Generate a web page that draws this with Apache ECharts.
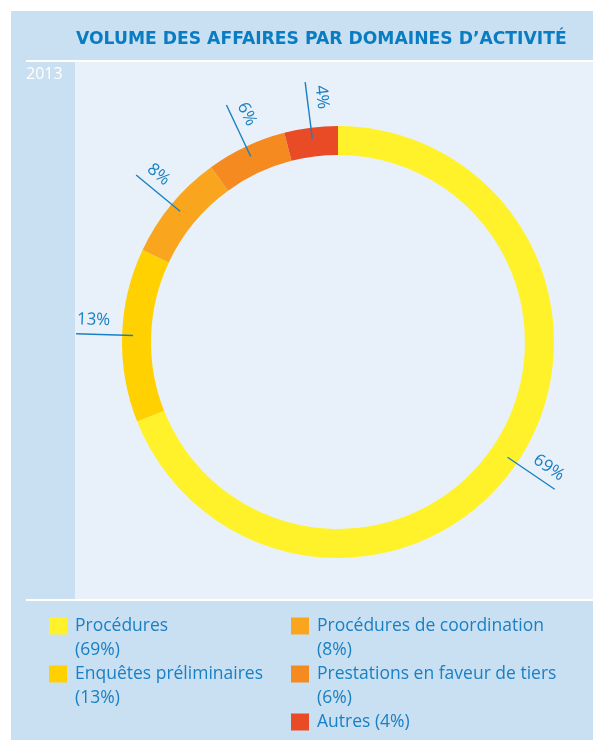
<!DOCTYPE html>
<html>
<head>
<meta charset="utf-8">
<script src="https://cdn.jsdelivr.net/npm/echarts@6/dist/echarts.min.js"></script>
<style>
html,body{margin:0;padding:0;background:#fff;}
#chart{width:593px;height:740px;}
</style>
</head>
<body>
<div id="chart"></div>
<script>
// domaines d'activité, 2013
const categories = ['Procédures', 'Enquêtes préliminaires', 'Procédures de coordination', 'Prestations en faveur de tiers', 'Autres'];
const shares = [69, 13, 8, 6, 4];
const palette = ['#fff22a', '#ffd100', '#f9a61e', '#f58a21', '#e84b25'];
const legendLeft = categories.slice(0, 2);
const legendRight = categories.slice(2);

const blue = '#1a80c4';
const chart = echarts.init(document.getElementById('chart'));

const ringData = categories.map((c, i) => ({ name: c, value: shares[i], itemStyle: { color: palette[i] } }));
const labelData = categories.map((c, i) => ({ name: c, value: shares[i] }));

// blank first line so the first text line lines up with the square
function legendText(name) {
  const i = categories.indexOf(name);
  if (i === categories.length - 1) return ' \n' + name + ' (' + shares[i] + '%)\n ';
  return ' \n' + name + '\n(' + shares[i] + '%)';
}

const legendBase = {
  orient: 'vertical',
  top: 590,
  height: 220,
  padding: 0,
  itemWidth: 18,
  itemHeight: 17,
  itemGap: -24,
  icon: 'rect',
  selectedMode: false,
  formatter: legendText,
  textStyle: {
    color: blue,
    fontFamily: 'Open Sans',
    fontSize: 17.5,
    lineHeight: 24,
    padding: [0, 0, 0, 3]
  }
};

chart.setOption({
  animation: false,
  title: {
    text: 'VOLUME DES AFFAIRES PAR DOMAINES D’ACTIVITÉ',
    left: 71,
    top: 26,
    textStyle: { color: '#0a7cc1', fontFamily: 'DejaVu Sans', fontWeight: 'bold', fontSize: 17.2 }
  },
  graphic: [
    { type: 'rect', z: -10, shape: { x: 11, y: 11, width: 582, height: 729 }, style: { fill: '#c9dff2' } },
    { type: 'rect', z: -9, shape: { x: 75, y: 62, width: 518, height: 537 }, style: { fill: '#e8f1f9' } },
    { type: 'line', z: -8, shape: { x1: 26, y1: 61, x2: 593, y2: 61 }, style: { stroke: '#ffffff', lineWidth: 2 } },
    { type: 'line', z: -8, shape: { x1: 26, y1: 600, x2: 593, y2: 600 }, style: { stroke: '#ffffff', lineWidth: 2 } },
    { type: 'text', z: -7, x: 26, y: 66, style: { text: '2013', fill: '#ffffff', font: '16px "Open Sans"' } }
  ],
  legend: [
    Object.assign({}, legendBase, { left: 49, data: legendLeft }),
    Object.assign({}, legendBase, { left: 291, data: legendRight })
  ],
  series: [
    {
      type: 'pie',
      z: 2,
      center: [338, 342],
      radius: [187, 216],
      startAngle: 90,
      clockwise: true,
      silent: true,
      label: { show: false },
      labelLine: { show: false },
      data: ringData
    },
    {
      type: 'pie',
      z: 5,
      center: [338, 342],
      radius: [0, 205],
      startAngle: 90,
      clockwise: true,
      silent: true,
      avoidLabelOverlap: false,
      itemStyle: { color: 'rgba(0,0,0,0)' },
      label: {
        show: true,
        position: 'outside',
        formatter: '{c}%',
        color: blue,
        fontFamily: 'Open Sans',
        fontSize: 17
      },
      labelLine: {
        show: true,
        length: 57,
        length2: 0,
        lineStyle: { color: blue, width: 1.4 }
      },
      labelLayout: function (p) {
        const pts = p.labelLinePoints;
        if (!pts) return {};
        const x0 = pts[0][0], y0 = pts[0][1];
        const len = Math.hypot(pts[1][0] - x0, pts[1][1] - y0);
        const dx = (pts[1][0] - x0) / len, dy = (pts[1][1] - y0) / len;
        let tx = dx, ty = dy;
        if (tx < 0) { tx = -tx; ty = -ty; }
        // text sits on the line like on an underline
        const ux = ty, uy = -tx;
        return {
          x: x0 + dx * 40 + ux * 6,
          y: y0 + dy * 40 + uy * 6,
          rotate: Math.atan2(-ty, tx) * 180 / Math.PI,
          align: 'center',
          verticalAlign: 'bottom',
          labelLinePoints: [[x0, y0], [x0 + dx * 57, y0 + dy * 57]]
        };
      },
      data: labelData
    }
  ]
});
</script>
</body>
</html>
